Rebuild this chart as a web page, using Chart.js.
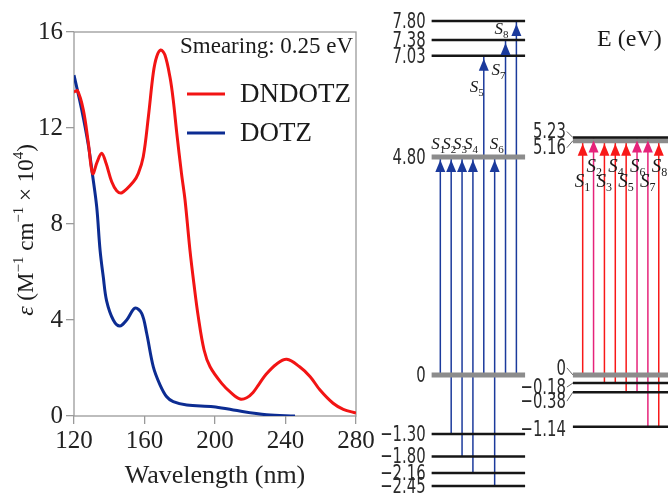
<!DOCTYPE html>
<html>
<head>
<meta charset="utf-8">
<script src="https://cdn.jsdelivr.net/npm/chart.js@4"></script>
<style>
  html, body { margin: 0; padding: 0; background: #fff; }
  #wrap { position: relative; width: 668px; height: 497px; overflow: hidden; }
  #spettro { position: absolute; left: 0; top: 0; }
  #livelli { position: absolute; left: 380px; top: 0; }
</style>
</head>
<body>
<div id="wrap">
  <canvas id="spettro" width="380" height="497"></canvas>
  <canvas id="livelli" width="288" height="497"></canvas>
</div>
<script>
// spettro di assorbimento (nm, 10^4 M^-1 cm^-1)
const lunghezzeDNDOTZ = [120, 122, 125.3, 128.1, 130.6, 133.2, 135.7, 138.2, 141.4, 144.2, 147.1, 153.7, 156.5, 159.3, 162.2, 165, 166.9, 169.2, 171.6, 174.5, 176.3, 178.3, 181, 183, 185.8, 188, 190.5, 193.8, 197.2, 203.8, 209.5, 214.2, 218, 221.6, 225, 229, 235, 240.7, 248, 254, 259.6, 267, 272.8, 280];
const valoriDNDOTZ = [13.5, 13.55, 12.75, 11.4, 10.1, 10.6, 10.95, 10.53, 9.76, 9.39, 9.3, 9.76, 10.11, 10.8, 12.47, 14.3, 14.97, 15.25, 15.04, 14.1, 13.17, 11.8, 10.1, 9.0, 6.9, 5.53, 4.14, 2.75, 2.05, 1.36, 0.94, 0.71, 0.76, 0.98, 1.33, 1.74, 2.17, 2.36, 2.05, 1.64, 1.08, 0.53, 0.28, 0.12];
const lunghezzeDOTZ = [120, 124.4, 128.1, 130.6, 132.9, 134.8, 136.6, 138.5, 142.3, 146, 149.9, 154.6, 158.4, 161.2, 165, 168.8, 172.6, 176.3, 184, 199, 210.4, 229.3, 245.4];
const valoriDOTZ = [14.2, 12.75, 11.3, 10.0, 8.7, 6.9, 5.8, 4.8, 4.0, 3.75, 4.0, 4.49, 4.28, 3.46, 2.05, 1.3, 0.8, 0.6, 0.46, 0.39, 0.25, 0.05, 0];
const tickLunghezza = [120, 160, 200, 240, 280];
const tickEpsilon = [0, 4, 8, 12, 16];

// livelli energetici (eV) e transizioni S1..S8
const livelliDOTZ = [7.80, 7.38, 7.03, 4.80, 0, -1.30, -1.80, -2.16, -2.45];
const daDOTZ = [0, -1.30, -1.80, -2.16, 0, -2.45, 0, 0];
const aDOTZ = [4.80, 4.80, 4.80, 4.80, 7.03, 4.80, 7.38, 7.80];
const livelliDNDOTZ = [5.23, 5.16, 0, -0.18, -0.38, -1.14];
const daDNDOTZ = [0, 0, -0.18, -0.18, -0.38, -0.38, -1.14, -1.14];
const aDNDOTZ = [5.16, 5.23, 5.16, 5.16, 5.16, 5.23, 5.23, 5.16];
const statiS = [1, 2, 3, 4, 5, 6, 7, 8];

(function(){
    const SERIF = '"Liberation Serif", "DejaVu Serif", serif';
    const THIN = '"DejaVu Sans ExtraLight", "DejaVu Sans Condensed", "DejaVu Sans", sans-serif';
    const ROSSO = '#f21414';
    const BLU = '#0c2c92';

    function punti(xs, ys){ return xs.map((x, i) => ({ x: x, y: ys[i] })); }

    // testo con pezzi di font diversi (apici, pedici)
    function scriviRicco(ctx, x, y, pezzi, allinea){
        let w = 0;
        pezzi.forEach(p => { ctx.font = p[1]; w += ctx.measureText(p[0]).width; });
        let cx = allinea === 'center' ? x - w / 2 : (allinea === 'right' ? x - w : x);
        pezzi.forEach(p => {
            ctx.font = p[1];
            ctx.fillText(p[0], cx, y + (p[2] || 0));
            cx += ctx.measureText(p[0]).width;
        });
    }

    function etichettaLivello(v){ return v === 0 ? '0' : v.toFixed(2).replace('-', '\u2212'); }

    // ---------- grafico spettro ----------
    const pluginSpettro = {
        id: 'spettro',
        beforeDatasetsDraw(chart){
            const { ctx, chartArea: a } = chart;
            ctx.save();
            ctx.strokeStyle = '#9a9a9a';
            ctx.lineWidth = 1.3;
            ctx.strokeRect(a.left, a.top, a.right - a.left, a.bottom - a.top);
            ctx.restore();
        },
        afterDraw(chart){
            const { ctx, chartArea: a } = chart;
            ctx.save();
            ctx.fillStyle = '#1a1a1a';
            ctx.textBaseline = 'middle';
            ctx.textAlign = 'left';
            ctx.font = '23px ' + SERIF;
            ctx.fillText('Smearing: 0.25 eV', a.left + 106, a.top + 15);

            chart.data.datasets.forEach((ds, i) => {
                const y = a.top + 62 + i * 39;
                ctx.strokeStyle = ds.borderColor;
                ctx.lineWidth = 3;
                ctx.beginPath();
                ctx.moveTo(a.left + 113, y);
                ctx.lineTo(a.left + 151, y);
                ctx.stroke();
                ctx.font = '27px ' + SERIF;
                ctx.fillText(ds.label, a.left + 166, y + 1);
            });

            // titolo asse y
            ctx.translate(27, (a.top + a.bottom) / 2 + 6);
            ctx.rotate(-Math.PI / 2);
            const f = '23px ' + SERIF, s = '15px ' + SERIF;
            scriviRicco(ctx, 0, 0, [
                ['\u03b5', 'italic 24px ' + SERIF, 0],
                [' (M', f, 0], ['\u22121', s, -8],
                [' cm', f, 0], ['\u22121', s, -8],
                [' \u00d7 10', f, 0], ['4', s, -8],
                [')', f, 0]
            ], 'center');
            ctx.restore();
        }
    };

    const tickFont = { family: SERIF, size: 25 };

    new Chart(document.getElementById('spettro'), {
        type: 'line',
        data: {
            datasets: [
                { label: 'DNDOTZ', data: punti(lunghezzeDNDOTZ, valoriDNDOTZ), borderColor: ROSSO, borderWidth: 3, pointRadius: 0, tension: 0.35, fill: false },
                { label: 'DOTZ', data: punti(lunghezzeDOTZ, valoriDOTZ), borderColor: BLU, borderWidth: 3, pointRadius: 0, tension: 0.35, fill: false }
            ]
        },
        options: {
            responsive: false,
            animation: false,
            devicePixelRatio: 1,
            events: [],
            layout: { padding: { top: 32, right: 24, left: 0, bottom: 0 } },
            plugins: { legend: { display: false }, tooltip: { enabled: false } },
            scales: {
                x: {
                    type: 'linear', min: 120, max: 280,
                    afterBuildTicks: sc => { sc.ticks = tickLunghezza.map(v => ({ value: v })); },
                    afterFit: sc => { sc.height = 81; },
                    grid: { drawOnChartArea: false, color: '#9a9a9a', tickLength: 8, lineWidth: 1.3 },
                    border: { display: false },
                    ticks: { font: tickFont, color: '#222', padding: 2, maxRotation: 0 },
                    title: { display: true, text: 'Wavelength (nm)', font: { family: SERIF, size: 26 }, color: '#222', padding: { top: 0, bottom: 5 } }
                },
                y: {
                    type: 'linear', min: 0, max: 16,
                    afterBuildTicks: sc => { sc.ticks = tickEpsilon.map(v => ({ value: v })); },
                    afterFit: sc => { sc.width = 74; },
                    grid: { drawOnChartArea: false, color: '#9a9a9a', tickLength: 8, lineWidth: 1.3 },
                    border: { display: false },
                    ticks: { font: tickFont, color: '#222', padding: 3 }
                }
            }
        },
        plugins: [pluginSpettro]
    });

    // ---------- diagramma dei livelli ----------
    const COL_DOTZ = 0, COL_DNDOTZ = 13.1;       // colonna della prima freccia
    const LIV_DOTZ = [-0.8, 7.8], LIV_DNDOTZ = [12.2, 20.95];
    const grigiDOTZ = [4.80, 0], grigiDNDOTZ = [5.16, 0];
    const coloriDNDOTZ = ['#f81818', '#e6237a', '#f81818', '#f81818', '#f81818', '#e6237a', '#e6237a', '#f81818'];
    const COL_BLU = '#1b3a9c';
    // posizione etichette S (dx, dy in px rispetto alla punta)
    const posSDOTZ = [[-9, -8], [-9, -8], [-9, -8], [-9, -8], [-14, 36], [-5, -8], [-14, 35], [-22, 13]];
    const posSDNDOTZ = [[-8, 46], [-7, 34], [-8, 46], [-7, 31], [-8, 46], [-7, 34], [-8, 49], [-7, 31]];
    const spostaDNDOTZ = [-6, 7, -7, 4, 9, 3];

    const datasets = [];
    function livelli(valori, grigi, estremi){
        valori.forEach(v => {
            const g = grigi.includes(v);
            datasets.push({
                data: [{ x: estremi[0], y: v }, { x: estremi[1], y: v }],
                borderColor: g ? '#8c8c8c' : '#161616',
                borderWidth: g ? 5 : 2.5,
                pointRadius: 0, order: 0, borderCapStyle: 'butt'
            });
        });
    }
    function frecce(da, a, col, colori, gruppo){
        da.forEach((d, i) => {
            datasets.push({
                data: [{ x: col + i, y: d }, { x: col + i, y: a[i] }],
                borderColor: Array.isArray(colori) ? colori[i] : colori,
                borderWidth: 1.5,
                pointRadius: 0, order: 1,
                freccia: true, gruppo: gruppo, indice: i
            });
        });
    }
    livelli(livelliDOTZ, grigiDOTZ, LIV_DOTZ);
    livelli(livelliDNDOTZ, grigiDNDOTZ, LIV_DNDOTZ);
    frecce(daDOTZ, aDOTZ, COL_DOTZ, COL_BLU, 'DOTZ');
    frecce(daDNDOTZ, aDNDOTZ, COL_DNDOTZ, coloriDNDOTZ, 'DNDOTZ');

    // etichetta stretta: compressa in orizzontale
    function scriviStretto(ctx, testo, x, y, sx){
        ctx.save();
        ctx.translate(x, y);
        ctx.scale(sx, 1);
        ctx.fillText(testo, 0, 0);
        ctx.restore();
    }

    const pluginLivelli = {
        id: 'livelli',
        afterDatasetsDraw(chart){
            const ctx = chart.ctx;
            const xs = chart.scales.x, ys = chart.scales.y;
            ctx.save();
            chart.data.datasets.forEach((ds, i) => {
                if(!ds.freccia) return;
                const p = chart.getDatasetMeta(i).data[1];
                const tipY = p.y + 3;
                ctx.fillStyle = ds.borderColor;
                ctx.beginPath();
                ctx.moveTo(p.x, tipY);
                ctx.lineTo(p.x - 5, tipY + 12);
                ctx.lineTo(p.x + 5, tipY + 12);
                ctx.closePath();
                ctx.fill();

                const pos = ds.gruppo === 'DOTZ' ? posSDOTZ[ds.indice] : posSDNDOTZ[ds.indice];
                const big = ds.gruppo === 'DOTZ' ? 17 : 19;
                ctx.fillStyle = '#1a1a1a';
                ctx.textBaseline = 'alphabetic';
                scriviRicco(ctx, p.x + pos[0], p.y + pos[1], [
                    ['S', 'italic ' + big + 'px ' + SERIF, 0],
                    [String(statiS[ds.indice]), Math.round(big * 0.65) + 'px ' + SERIF, 4]
                ], 'left');
            });

            // etichette livelli
            ctx.fillStyle = '#2a2a2a';
            ctx.textBaseline = 'middle';
            ctx.textAlign = 'right';
            ctx.font = '22px ' + THIN;
            const sx = 33 / ctx.measureText('7.80').width;
            const xd = xs.getPixelForValue(LIV_DOTZ[0]) - 6;
            livelliDOTZ.forEach(v => scriviStretto(ctx, etichettaLivello(v), xd, ys.getPixelForValue(v) + 1, sx));

            const x0 = xs.getPixelForValue(LIV_DNDOTZ[0]);
            ctx.strokeStyle = '#555';
            ctx.lineWidth = 0.9;
            livelliDNDOTZ.forEach((v, i) => {
                const yl = ys.getPixelForValue(v);
                const yt = yl + spostaDNDOTZ[i];
                scriviStretto(ctx, etichettaLivello(v), x0 - 7, yt + 1, sx);
                if(i < 5){
                    ctx.beginPath();
                    ctx.moveTo(x0 - 6, yt);
                    ctx.lineTo(x0, yl);
                    ctx.stroke();
                }
            });

            ctx.fillStyle = '#1a1a1a';
            ctx.textAlign = 'left';
            ctx.textBaseline = 'alphabetic';
            ctx.font = '24px ' + SERIF;
            ctx.fillText('E (eV)', 217, 46);
            ctx.restore();
        }
    };

    new Chart(document.getElementById('livelli'), {
        type: 'line',
        data: { datasets: datasets },
        options: {
            responsive: false,
            animation: false,
            devicePixelRatio: 1,
            events: [],
            layout: { padding: 0 },
            plugins: { legend: { display: false }, tooltip: { enabled: false } },
            scales: {
                x: { type: 'linear', min: -5.55, max: 20.95, display: false },
                y: { type: 'linear', min: -2.69, max: 8.26, display: false }
            }
        },
        plugins: [pluginLivelli]
    });
})();
</script>
</body>
</html>
